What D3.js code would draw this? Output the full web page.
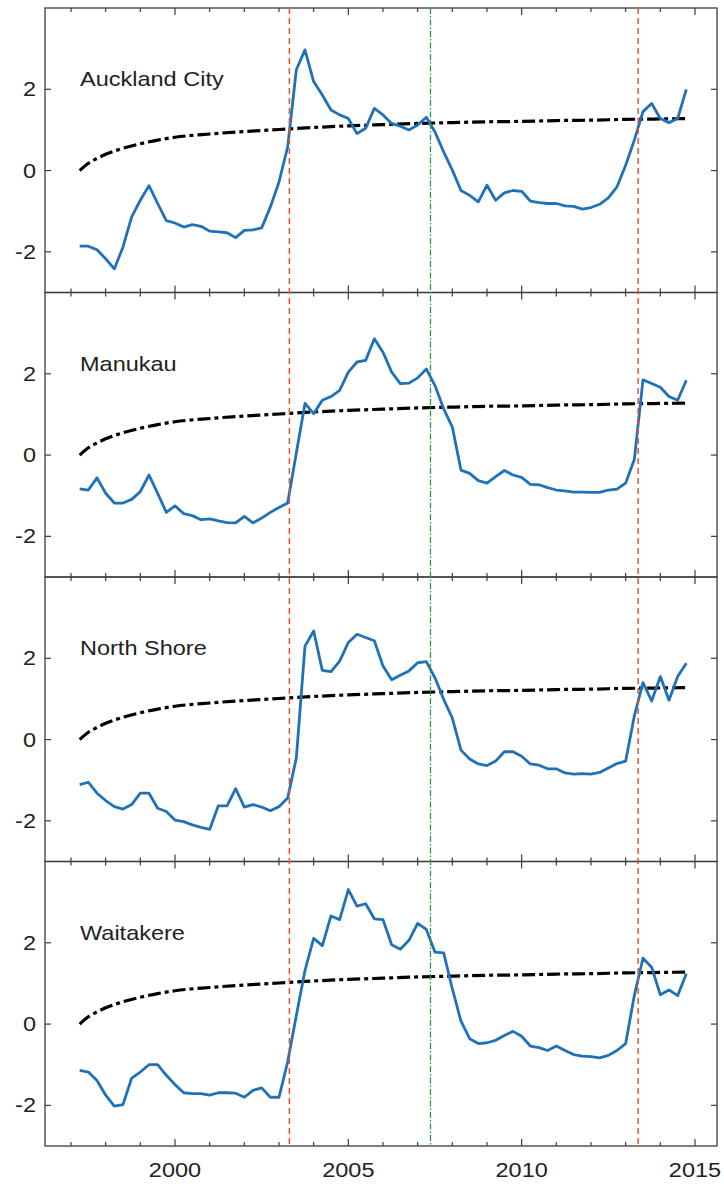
<!DOCTYPE html>
<html>
<head>
<meta charset="utf-8">
<script src="https://cdn.jsdelivr.net/npm/d3@7"></script>
<style>
  html, body { margin: 0; padding: 0; background: #fff; }
  svg { display: block; }
  text { font-family: "Liberation Sans", Arial, sans-serif; fill: #222; }
</style>
</head>
<body>
<script>
// ---------- DATA ----------
const regions = ["Auckland City", "Manukau", "North Shore", "Waitakere"];
const startYear = 1997.25;   // first quarterly observation
const step = 0.25;           // quarterly spacing

const aucklandCity = [-1.86,-1.86,-1.95,-2.17,-2.42,-1.88,-1.14,-0.73,-0.37,-0.81,-1.23,-1.29,-1.39,-1.33,-1.37,-1.49,-1.51,-1.53,-1.65,-1.47,-1.46,-1.41,-0.9,-0.28,0.58,2.48,2.97,2.19,1.86,1.49,1.37,1.28,0.91,1.04,1.53,1.37,1.16,1.09,1.0,1.12,1.31,0.95,0.46,0.01,-0.49,-0.61,-0.77,-0.36,-0.73,-0.55,-0.49,-0.51,-0.75,-0.79,-0.81,-0.81,-0.87,-0.88,-0.95,-0.91,-0.83,-0.67,-0.40,0.13,0.75,1.45,1.65,1.28,1.18,1.28,2.0];
const manukau = [-0.83,-0.86,-0.56,-0.94,-1.18,-1.18,-1.09,-0.9,-0.49,-0.94,-1.41,-1.25,-1.44,-1.49,-1.59,-1.57,-1.62,-1.66,-1.67,-1.51,-1.67,-1.55,-1.41,-1.29,-1.18,0.05,1.27,1.02,1.35,1.44,1.59,2.04,2.29,2.33,2.86,2.53,2.04,1.76,1.77,1.90,2.12,1.71,1.14,0.69,-0.37,-0.45,-0.63,-0.69,-0.53,-0.38,-0.49,-0.55,-0.72,-0.73,-0.80,-0.86,-0.88,-0.91,-0.91,-0.92,-0.92,-0.86,-0.84,-0.69,-0.11,1.85,1.76,1.67,1.44,1.35,1.84];
const northShore = [-1.11,-1.05,-1.32,-1.50,-1.65,-1.71,-1.60,-1.32,-1.32,-1.69,-1.77,-1.98,-2.02,-2.10,-2.16,-2.21,-1.63,-1.63,-1.21,-1.66,-1.60,-1.66,-1.75,-1.65,-1.44,-0.45,2.30,2.67,1.70,1.67,1.93,2.39,2.59,2.51,2.43,1.81,1.47,1.58,1.69,1.89,1.92,1.52,0.99,0.53,-0.26,-0.48,-0.60,-0.64,-0.53,-0.30,-0.30,-0.41,-0.60,-0.63,-0.72,-0.72,-0.82,-0.85,-0.84,-0.85,-0.81,-0.70,-0.59,-0.53,0.58,1.40,0.95,1.55,0.97,1.55,1.88];
const waitakere = [-1.14,-1.18,-1.39,-1.75,-2.02,-1.98,-1.33,-1.18,-1.0,-1.0,-1.26,-1.49,-1.69,-1.71,-1.71,-1.75,-1.69,-1.69,-1.70,-1.80,-1.63,-1.57,-1.80,-1.80,-0.93,0.21,1.32,2.11,1.93,2.66,2.57,3.31,2.90,2.96,2.59,2.57,1.95,1.84,2.06,2.48,2.33,1.77,1.75,0.87,0.07,-0.36,-0.48,-0.46,-0.40,-0.28,-0.18,-0.30,-0.54,-0.58,-0.65,-0.54,-0.65,-0.75,-0.79,-0.80,-0.83,-0.77,-0.65,-0.48,0.70,1.62,1.40,0.72,0.84,0.70,1.24];
const seriesList = [aucklandCity, manukau, northShore, waitakere];

// trend (black dash-dot), year / value pairs
const trendYears  = [1997.25,1997.5,1997.75,1998,1998.5,1999,1999.5,2000,2001,2002,2003,2004,2005,2006,2007,2008,2009,2010,2011,2012,2013,2014,2014.75];
const trendValues = [0,0.18,0.30,0.40,0.55,0.66,0.75,0.82,0.90,0.96,1.01,1.06,1.10,1.13,1.16,1.18,1.20,1.21,1.23,1.24,1.26,1.27,1.28];

// vertical event lines
const redLines = [2003.3, 2013.36];
const greenLines = [2007.37];

const xTickYears = [2000, 2005, 2010, 2015];
const xMinorYears = d3.range(1997, 2016);
const yTicks = [-2, 0, 2];

// ---------- LAYOUT ----------
const W = 724, H = 1186;
const mLeft = 45, mRight = 717, mTop = 8, panelH = 284.5;
const stretch = 1.12, fontSize = 21;

const svg = d3.select("body").append("svg").attr("width", W).attr("height", H);

const x = d3.scaleLinear().domain([1996.25, 2015.635]).range([mLeft, mRight]);

const frameColor = "#3c3c3c";

function label(parent, tx, ty, str, anchor, baseline) {
  const t = parent.append("text")
    .attr("transform", `translate(${tx},${ty}) scale(${stretch},1)`)
    .attr("text-anchor", anchor).attr("font-size", fontSize).text(str);
  if (baseline) t.attr("dominant-baseline", baseline);
  return t;
}

seriesList.forEach((vals, i) => {
  const pTop = mTop + i * panelH, pBot = pTop + panelH;
  const y = d3.scaleLinear().domain([-3, 4]).range([pBot, pTop]);
  const g = svg.append("g");

  // ticks
  xMinorYears.forEach(yr => {
    const len = (yr % 5 === 0) ? 7 : 4;
    g.append("line").attr("x1", x(yr)).attr("x2", x(yr)).attr("y1", pBot).attr("y2", pBot - len)
      .attr("stroke", frameColor).attr("stroke-width", 1.2);
    g.append("line").attr("x1", x(yr)).attr("x2", x(yr)).attr("y1", pTop).attr("y2", pTop + len)
      .attr("stroke", frameColor).attr("stroke-width", 1.2);
  });
  yTicks.forEach(v => {
    g.append("line").attr("x1", mLeft).attr("x2", mLeft + 6).attr("y1", y(v)).attr("y2", y(v))
      .attr("stroke", frameColor).attr("stroke-width", 1.2);
    g.append("line").attr("x1", mRight).attr("x2", mRight - 6).attr("y1", y(v)).attr("y2", y(v))
      .attr("stroke", frameColor).attr("stroke-width", 1.2);
    label(g, 36, y(v), v, "end", "central");
  });

  // trend
  const trendLine = d3.line().x((d, j) => x(trendYears[j])).y(d => y(d)).curve(d3.curveMonotoneX);
  g.append("path").attr("d", trendLine(trendValues)).attr("fill", "none")
    .attr("stroke", "#000").attr("stroke-width", 3.2).attr("stroke-dasharray", "13,4,4,4");

  // series
  const line = d3.line().x((d, j) => x(startYear + j * step)).y(d => y(d));
  g.append("path").attr("d", line(vals)).attr("fill", "none")
    .attr("stroke", "#1f72b8").attr("stroke-width", 2.8).attr("stroke-linejoin", "round");

  // title
  label(g, 80, pTop + 78, regions[i], "start", null);

  // frame
  g.append("rect").attr("x", mLeft).attr("y", pTop).attr("width", mRight - mLeft).attr("height", panelH)
    .attr("fill", "none").attr("stroke", frameColor).attr("stroke-width", 1.3);
});

// vertical lines spanning all panels
const yTopAll = mTop, yBotAll = mTop + 4 * panelH;
redLines.forEach(yr => {
  svg.append("line").attr("x1", x(yr)).attr("x2", x(yr)).attr("y1", yTopAll).attr("y2", yBotAll)
    .attr("stroke", "#e8532b").attr("stroke-width", 1.5).attr("stroke-dasharray", "6,4");
});
greenLines.forEach(yr => {
  svg.append("line").attr("x1", x(yr)).attr("x2", x(yr)).attr("y1", yTopAll).attr("y2", yBotAll)
    .attr("stroke", "#2e9a3e").attr("stroke-width", 1.3).attr("stroke-dasharray", "6,2,1.5,2");
});

// x tick labels
xTickYears.forEach(yr => {
  label(svg, x(yr), yBotAll + 24, yr, "middle", "central");
});
</script>
</body>
</html>
